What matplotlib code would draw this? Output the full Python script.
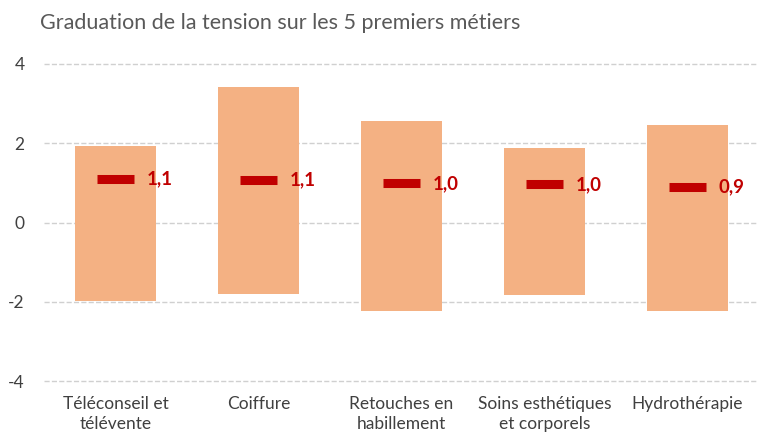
import matplotlib
matplotlib.use("Agg")
import matplotlib.pyplot as plt
import numpy as np

categories = ["Téléconseil et\ntélévente", "Coiffure", "Retouches en\nhabillement",
              "Soins esthétiques\net corporels", "Hydrothérapie"]
mins = [-1.97, -1.80, -2.23, -1.82, -2.23]
maxs = [1.92, 3.42, 2.56, 1.87, 2.46]
means = [1.11, 1.08, 0.99, 0.96, 0.89]
yticks = [-4, -2, 0, 2, 4]

plt.rcParams['font.family'] = ['Lato', 'DejaVu Sans']
fig = plt.figure(figsize=(7.57, 4.34), dpi=100)
ax = fig.add_axes([44/757, 1-381/434, 715/757, (381-64)/434])

x = np.arange(len(categories))
ax.bar(x, np.array(maxs) - np.array(mins), bottom=mins, width=0.56,
       color="#F4B183", zorder=2)
ax.errorbar(x, means, xerr=0.13, fmt='none', ecolor="#C00000",
            elinewidth=6.5, capsize=0, zorder=3)
for xi, m in zip(x, means):
    ax.text(xi + 0.22, m, f"{m:.1f}".replace('.', ','), ha='left', va='center',
            color="#C00000", fontweight='bold', fontsize=13.5, zorder=4)

ax.set_xlim(-0.5, len(categories) - 0.5)
ax.set_ylim(-4, 4)
ax.set_yticks(yticks)
ax.set_yticklabels([str(t) for t in yticks])
ax.set_xticks(x)
ax.set_xticklabels(categories, linespacing=1.3)
for t in yticks:
    ax.axhline(t, color='#D0D0D0', linestyle='--', linewidth=1, zorder=0, clip_on=False)
for s in ax.spines.values():
    s.set_visible(False)
ax.tick_params(axis='both', length=0, labelsize=12.5, labelcolor='#404040')
ax.tick_params(axis='y', pad=14)
ax.tick_params(axis='x', pad=11)
fig.text(40/757, 1-23/434, "Graduation de la tension sur les 5 premiers métiers",
         ha='left', va='center', fontsize=15.5, color='#595959')
fig.savefig("out.png", dpi=100)
